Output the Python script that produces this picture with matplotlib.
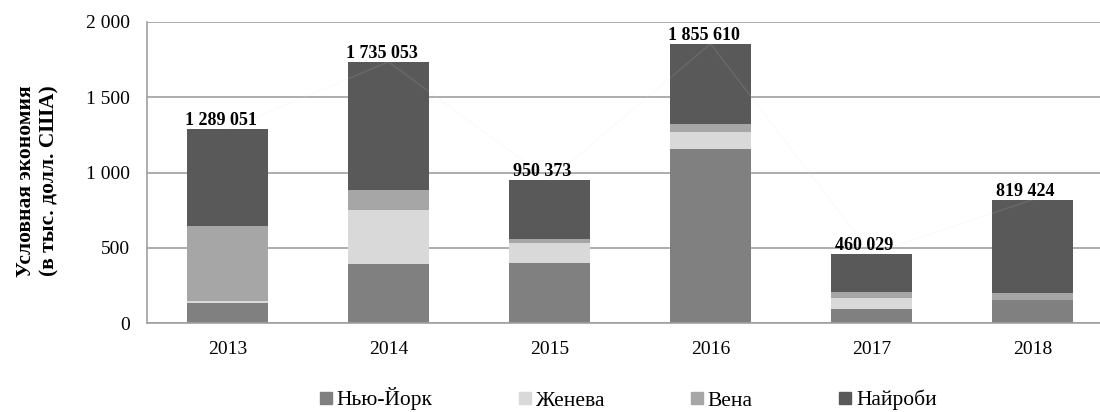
import matplotlib
matplotlib.use("Agg")
import matplotlib.pyplot as plt
from matplotlib.lines import Line2D
import numpy as np

years = ["2013", "2014", "2015", "2016", "2017", "2018"]
series_names = ["Нью-Йорк", "Женева", "Вена", "Найроби"]
new_york = [131, 389, 398, 1158, 93, 156]
geneva = [15, 364, 131, 113, 71, 0]
vienna = [496, 129, 31, 51, 43, 42]
nairobi = [647.051, 853.053, 390.373, 533.610, 253.029, 621.424]
total_labels = ["1 289 051", "1 735 053", "950 373", "1 855 610", "460 029", "819 424"]
y_ticks = [0, 500, 1000, 1500, 2000]
y_tick_labels = ["0", "500", "1 000", "1 500", "2 000"]

colors = ["#808080", "#d9d9d9", "#a6a6a6", "#595959"]

plt.rcParams['font.family'] = ['Liberation Serif', 'DejaVu Serif']

fig = plt.figure(figsize=(11, 4.12), dpi=100)
W, H = 1100, 412
left_px, right_px, top_px, bot_px = 147, 1113, 22, 323
ax = fig.add_axes([left_px / W, 1 - bot_px / H, (right_px - left_px) / W, (bot_px - top_px) / H])

x = np.arange(len(years))
data = [new_york, geneva, vienna, nairobi]
bottom = np.zeros(len(years))
for vals, c, name in zip(data, colors, series_names):
    ax.bar(x, vals, width=0.505, bottom=bottom, color=c, label=name, zorder=2, linewidth=0)
    bottom = bottom + np.array(vals)

totals = bottom
ax.plot(x, totals, color="#e0e0e0", lw=1.0, alpha=0.12, zorder=3)

for xi, t, lab in zip(x, totals, total_labels):
    ax.annotate(lab, (xi, t), xytext=(-5, 0), textcoords="offset points",
                ha="center", va="bottom", fontsize=13, fontweight="bold", zorder=4)

ax.set_xlim(-0.5, len(years) - 0.5)
ax.set_ylim(0, 2000)
ax.set_yticks(y_ticks)
ax.set_yticklabels(y_tick_labels)
ax.set_xticks(x)
ax.set_xticklabels(years)
ax.tick_params(axis="both", length=0, labelsize=14)
ax.tick_params(axis="y", pad=12)
ax.tick_params(axis="x", pad=13)
ax.yaxis.grid(True, color="#a0a0a0", lw=1.2, zorder=0)
ax.set_axisbelow(True)
for s in ["top", "right"]:
    ax.spines[s].set_visible(False)
for s in ["left", "bottom"]:
    ax.spines[s].set_color("#a0a0a0")
    ax.spines[s].set_linewidth(1.2)

fig.text(38 / W, 1 - 181 / H, "Условная экономия\n(в тыс. долл. США)", rotation=90,
         ha="center", va="center", fontsize=15.5, fontweight="bold", linespacing=1.25)

handles = [Line2D([], [], marker="s", color=c, linestyle="none", markersize=8) for c in colors]
fig.legend(handles, series_names, loc="center", bbox_to_anchor=(628 / W, 1 - 399 / H),
           ncol=4, frameon=False, fontsize=15.5, handlelength=0.6, handletextpad=0.2,
           columnspacing=4.0, borderaxespad=0)

fig.savefig("out.png", dpi=100)
